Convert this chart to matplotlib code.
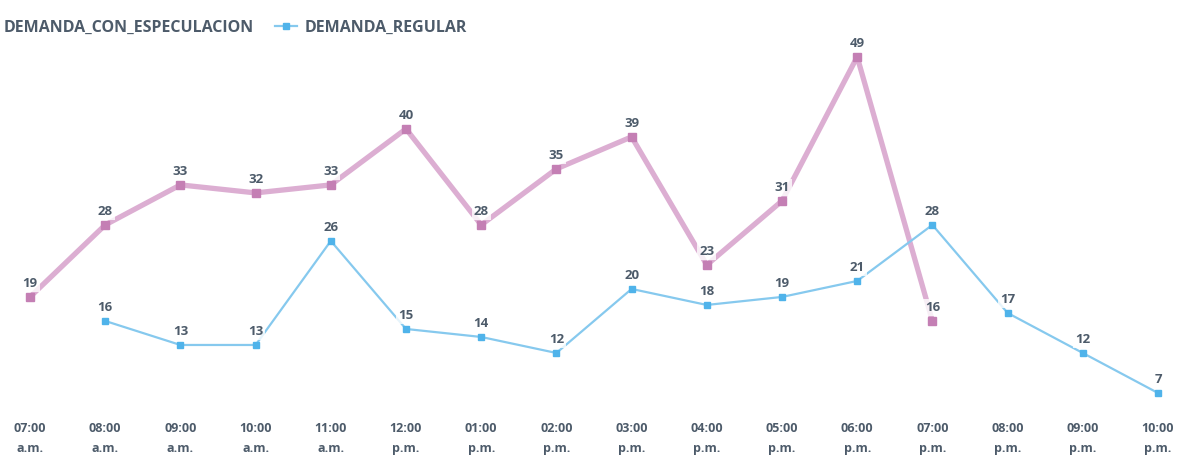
import numpy as np
import matplotlib
matplotlib.use("Agg")
import matplotlib.pyplot as plt

# ── Data ─────────────────────────────────────────────────────────────────────
HOURS = ["07:00\na.m.", "08:00\na.m.", "09:00\na.m.", "10:00\na.m.", "11:00\na.m.",
         "12:00\np.m.", "01:00\np.m.", "02:00\np.m.", "03:00\np.m.", "04:00\np.m.",
         "05:00\np.m.", "06:00\np.m.", "07:00\np.m.", "08:00\np.m.", "09:00\np.m.",
         "10:00\np.m."]
ESPECULACION = [19, 28, 33, 32, 33, 40, 28, 35, 39, 23, 31, 49, 16,
                np.nan, np.nan, np.nan]
REGULAR = [np.nan, 16, 13, 13, 26, 15, 14, 12, 20, 18, 19, 21, 28, 17, 12, 7]

PINK_LINE = "#dcaed2"
PINK_MARK = "#c47fb4"
BLUE_LINE = "#86c9ee"
BLUE_MARK = "#4fb3ea"
TEXT = "#4d5b6a"

plt.rcParams["font.family"] = ["Open Sans", "DejaVu Sans"]

fig = plt.figure(figsize=(11.81, 4.68), dpi=100)
ax = fig.add_axes([0, 0.1346, 1, 0.8654])

x = np.arange(len(HOURS))
esp = np.array(ESPECULACION, dtype=float)
reg = np.array(REGULAR, dtype=float)

ax.plot(x, esp, color=PINK_LINE, linewidth=3.8, marker="s", markersize=6,
        markerfacecolor=PINK_MARK, markeredgecolor=PINK_MARK,
        label="DEMANDA_CON_ESPECULACION", zorder=3)
ax.plot(x, reg, color=BLUE_LINE, linewidth=1.6, marker="s", markersize=4.5,
        markerfacecolor=BLUE_MARK, markeredgecolor=BLUE_MARK,
        label="DEMANDA_REGULAR", zorder=3)

for series in (esp, reg):
    for xi, v in zip(x, series):
        if np.isnan(v):
            continue
        ax.annotate(f"{int(v)}", (xi, v), xytext=(0, 5), textcoords="offset points",
                    ha="center", va="bottom", fontsize=9.5, fontweight="bold",
                    color=TEXT, zorder=5,
                    bbox=dict(boxstyle="square,pad=0.15", fc="white", ec="none", alpha=0.8))

ax.set_xlim(-0.399, 15.306)
ax.set_ylim(5.5, 56.1)
ax.set_xticks(x)
ax.set_xticklabels(HOURS, fontsize=9, fontweight="bold", color=TEXT, linespacing=1.7)
ax.tick_params(axis="x", length=0, pad=12)
ax.set_yticks([])
for s in ax.spines.values():
    s.set_visible(False)

leg = ax.legend(loc="center left", bbox_to_anchor=(-0.028, 0.931), ncol=2, frameon=False,
                fontsize=11.5, handlelength=1.4, handletextpad=0.5, columnspacing=1.3,
                borderaxespad=0)
for t in leg.get_texts():
    t.set_color(TEXT)
    t.set_fontweight("bold")

fig.savefig("out.png", dpi=100)
